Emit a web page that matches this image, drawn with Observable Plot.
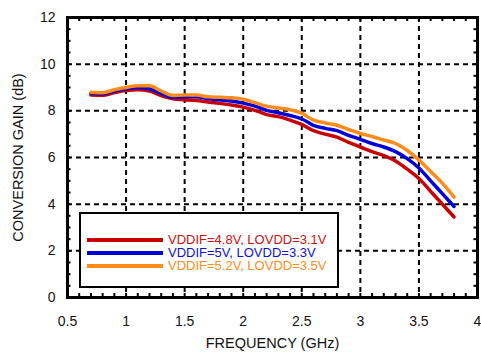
<!DOCTYPE html>
<html>
<head>
<meta charset="utf-8">
<script src="https://cdn.jsdelivr.net/npm/d3@7"></script>
<script src="https://cdn.jsdelivr.net/npm/@observablehq/plot@0.6"></script>
<style>
  body { margin: 0; background: #fff; }
  #wrap { position: relative; width: 481px; height: 354px; font-family: "Liberation Sans", Arial, sans-serif; }
  #legend { position: absolute; left: 79px; top: 212px; width: 256px; height: 72px; border: 2px solid #000; background: #fff; }
  .swatch { position: absolute; left: 6px; width: 76px; height: 3.5px; }
  .lab { position: absolute; left: 87px; font-size: 13px; white-space: nowrap; line-height: 12px; }
</style>
</head>
<body>
<div id="wrap"></div>
<script>
const freq = [0.7,0.8,0.9,1.0,1.1,1.2,1.3,1.4,1.5,1.6,1.7,1.8,1.9,2.0,2.1,2.2,2.3,2.4,2.5,2.6,2.7,2.8,2.9,3.0,3.1,3.2,3.3,3.4,3.5,3.6,3.7,3.8];
const gainRed = [8.68,8.67,8.78,8.87,8.9,8.85,8.65,8.52,8.48,8.44,8.38,8.32,8.25,8.16,8.02,7.84,7.75,7.6,7.42,7.15,7.0,6.87,6.65,6.45,6.25,6.08,5.85,5.5,5.1,4.55,4.0,3.45];
const gainBlue = [8.75,8.73,8.85,8.95,9.0,8.95,8.75,8.58,8.6,8.6,8.52,8.47,8.42,8.33,8.2,8.02,7.92,7.8,7.65,7.38,7.25,7.15,6.95,6.78,6.6,6.45,6.25,5.95,5.55,5.0,4.45,3.9];
const gainOrange = [8.8,8.78,8.9,9.0,9.08,9.08,8.85,8.66,8.68,8.68,8.6,8.58,8.56,8.5,8.35,8.2,8.12,8.05,7.9,7.6,7.48,7.38,7.2,7.03,6.9,6.75,6.6,6.3,5.9,5.4,4.9,4.3];
const seriesNames = ["VDDIF=4.8V, LOVDD=3.1V", "VDDIF=5V, LOVDD=3.3V", "VDDIF=5.2V, LOVDD=3.5V"];
const lineColors = ["#c80000", "#0000d8", "#ff8c1a"];
const textColors = ["#d01010", "#1010d8", "#ff8c1a"];
const xTicks = [0.5,1,1.5,2,2.5,3,3.5,4];
const yTicks = [0,2,4,6,8,10,12];
const xGrid = [1,1.5,2,2.5,3,3.5];
const yGrid = [2,4,6,8,10];
const xMinor = [0.6,0.7,0.8,0.9,1.0,1.1,1.2,1.3,1.4,1.5,1.6,1.7,1.8,1.9,2.0,2.1,2.2,2.3,2.4,2.5,2.6,2.7,2.8,2.9,3.0,3.1,3.2,3.3,3.4,3.5,3.6,3.7,3.8,3.9];
const yMinor = [0.5,1,1.5,2,2.5,3,3.5,4,4.5,5,5.5,6,6.5,7,7.5,8,8.5,9,9.5,10,10.5,11,11.5];
const xLabel = "FREQUENCY (GHz)";
const yLabel = "CONVERSION GAIN (dB)";

const allGains = [gainRed, gainBlue, gainOrange];
const table = [];
allGains.forEach((g, s) => g.forEach((v, i) => table.push({f: freq[i], g: v, s: seriesNames[s]})));

const fmt = d => String(d);
const dash = {stroke: "#000", strokeWidth: 2, strokeDasharray: "5,4"};
const chart = Plot.plot({
  width: 481, height: 354,
  marginLeft: 67, marginRight: 4, marginTop: 17, marginBottom: 57,
  style: {fontFamily: "'Liberation Sans', Arial, sans-serif", fontSize: "14px", color: "#111", background: "#fff"},
  x: {domain: [0.5, 4]},
  y: {domain: [0, 12]},
  color: {domain: seriesNames, range: lineColors},
  marks: [
    Plot.ruleX(xGrid, dash),
    Plot.ruleY(yGrid, dash),
    Plot.ruleX(xMinor, {y1: 0, y2: 0.17, stroke: "#000", strokeWidth: 2}),
    Plot.ruleX(xMinor, {y1: 12, y2: 11.83, stroke: "#000", strokeWidth: 2}),
    Plot.ruleY(yMinor, {x1: 0.5, x2: 0.53, stroke: "#000", strokeWidth: 2}),
    Plot.ruleY(yMinor, {x1: 4, x2: 3.97, stroke: "#000", strokeWidth: 2}),
    Plot.line(table, {x: "f", y: "g", z: "s", stroke: "s", strokeWidth: 3.5, curve: "monotone-x"}),
    Plot.frame({stroke: "#000", strokeWidth: 3}),
    Plot.axisX(xTicks, {tickSize: 0, tickPadding: 19, label: null, fontSize: 14, tickFormat: fmt}),
    Plot.axisY(yTicks, {tickSize: 0, tickPadding: 12, label: null, fontSize: 14, tickFormat: fmt}),
    Plot.text([xLabel], {frameAnchor: "bottom", dy: 46, lineAnchor: "middle", textAnchor: "middle", fontSize: 14.5, fill: "#111"}),
    Plot.text([yLabel], {frameAnchor: "left", dx: -49, rotate: -90, lineAnchor: "middle", textAnchor: "middle", fontSize: 14.5, fill: "#111"})
  ]
});
const wrap = document.getElementById("wrap");
wrap.appendChild(chart);

const legend = document.createElement("div");
legend.id = "legend";
const rowsY = [26, 39, 52];
seriesNames.forEach((n, i) => {
  const sw = document.createElement("div");
  sw.className = "swatch";
  sw.style.top = (rowsY[i] - 1.75) + "px";
  sw.style.background = lineColors[i];
  legend.appendChild(sw);
  const t = document.createElement("div");
  t.className = "lab";
  t.style.top = (rowsY[i] - 6) + "px";
  t.style.color = textColors[i];
  t.textContent = n;
  legend.appendChild(t);
});
wrap.appendChild(legend);
</script>
</body>
</html>
